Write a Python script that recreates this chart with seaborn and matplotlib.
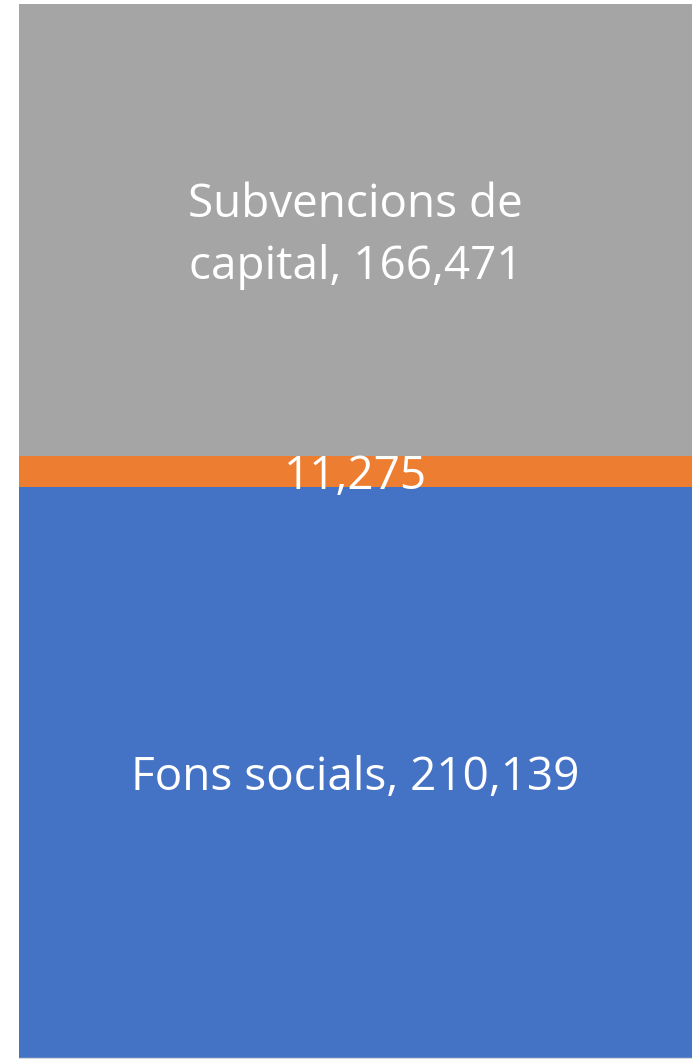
import matplotlib
matplotlib.use('Agg')
import matplotlib.pyplot as plt
import seaborn as sns
import numpy as np

categories = ['Fons socials', '', 'Subvencions de\ncapital']
values = [210139, 11275, 166471]
colors = ['#4472C4', '#ED7D31', '#A5A5A5']

sns.set_style('white')
plt.rcParams['font.family'] = ['Open Sans', 'DejaVu Sans']

fig = plt.figure(figsize=(6.92, 10.59), dpi=100)
ax = fig.add_axes([19 / 692, 1 / 1059, 1 - 19 / 692, 1054 / 1059])

bottoms = np.concatenate([[0], np.cumsum(values)[:-1]])
for cat, val, bot, col in zip(categories, values, bottoms, colors):
    sns.barplot(x=['Total'], y=[val], bottom=bot, color=col, width=1.0,
                saturation=1, linewidth=0, edgecolor='none', ax=ax)
    label = f'{cat}, {val:,}' if cat else f'{val:,}'
    ax.annotate(label, (0, bot + val / 2), xytext=(0, -4),
                textcoords='offset points', ha='center', va='center',
                color='white', fontsize=33, linespacing=1.45)

ax.set_xlim(-0.5, 0.5)
ax.set_ylim(0, sum(values))
ax.set_axis_off()
ax.plot([-0.5, 0.5], [0, 0], color='#D9D9D9', lw=1, clip_on=False)

fig.savefig('out.png', dpi=100)
